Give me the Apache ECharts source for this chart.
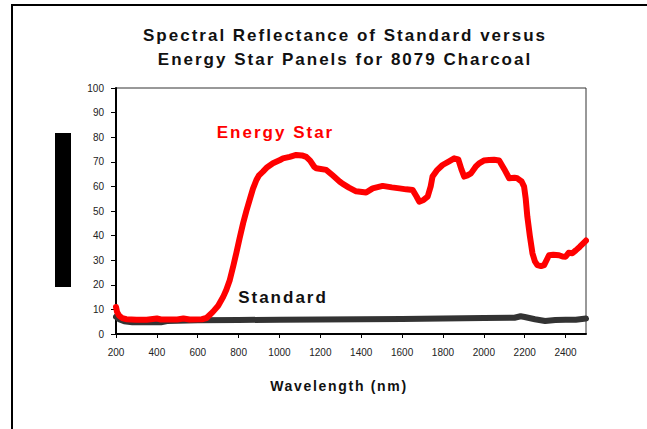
<!DOCTYPE html>
<html>
<head>
<meta charset="utf-8">
<script src="https://cdn.jsdelivr.net/npm/echarts@6/dist/echarts.min.js"></script>
<style>
  html, body { margin: 0; padding: 0; background: #fff; }
  #chart { width: 647px; height: 429px; }
  #chart svg text[style*="17px"] { letter-spacing: 2px; }
  #chart svg text[style*="14px"] { letter-spacing: 1.7px; }
</style>
</head>
<body>
<div id="chart"></div>
<script>
// Energy Star panel reflectance (%)
var energyWavelength = [200, 205, 215, 230, 250, 300, 350, 400, 420, 500, 530, 560, 620, 643, 674, 700, 724, 740, 757, 775, 789, 805, 822, 838, 854, 870, 887, 900, 919, 940, 968, 1000, 1017, 1050, 1082, 1110, 1131, 1150, 1170, 1180, 1229, 1260, 1294, 1310, 1340, 1375, 1424, 1456, 1505, 1550, 1587, 1620, 1652, 1670, 1684, 1705, 1725, 1740, 1749, 1770, 1798, 1830, 1855, 1875, 1890, 1904, 1920, 1937, 1960, 1977, 2000, 2026, 2050, 2075, 2100, 2124, 2150, 2164, 2185, 2197, 2205, 2213, 2225, 2238, 2250, 2262, 2280, 2295, 2310, 2319, 2340, 2368, 2385, 2400, 2415, 2433, 2450, 2470, 2500];
var energyReflectance = [11, 9, 7.5, 6.5, 6, 5.8, 5.8, 6.3, 5.9, 5.9, 6.3, 5.9, 6, 6.5, 9, 11.5, 15, 18, 22, 28, 33, 39, 45, 50, 54.5, 59, 62.6, 64.5, 66, 67.8, 69.4, 70.6, 71.4, 72, 72.8, 72.6, 72, 70.5, 68, 67.4, 66.7, 64.5, 62, 61, 59.5, 58, 57.5, 59.2, 60.2, 59.6, 59.2, 58.8, 58.5, 56, 53.8, 54.5, 55.8, 60, 64, 66.5, 68.7, 70.2, 71.4, 71, 67, 64, 64.5, 65.3, 68, 69.4, 70.5, 70.7, 70.8, 70.5, 67, 63.3, 63.5, 63.3, 62, 59.9, 55, 47.7, 40, 32.8, 29.5, 28, 27.6, 28, 30.5, 32, 32.2, 32, 31.5, 31.4, 33, 32.8, 34, 35.5, 38];

// Standard panel reflectance (%)
var standardWavelength = [200, 215, 240, 280, 420, 450, 600, 800, 1000, 1200, 1400, 1600, 1800, 2000, 2150, 2180, 2200, 2250, 2300, 2350, 2400, 2450, 2500];
var standardReflectance = [7, 6, 5.2, 4.8, 4.8, 5.3, 5.6, 5.7, 5.8, 5.9, 6.0, 6.1, 6.3, 6.5, 6.6, 7.2, 6.9, 6.0, 5.3, 5.7, 5.8, 5.8, 6.3];

var titleLines = ['Spectral Reflectance of Standard versus', 'Energy Star Panels for 8079 Charcoal'];
var xAxisTitle = 'Wavelength (nm)';
var seriesNames = ['Standard', 'Energy Star'];

function pairs(xs, ys) {
  return xs.map(function (x, i) { return [x, ys[i]]; });
}

var FONT = 'Liberation Sans';
var chart = echarts.init(document.getElementById('chart'), null, { renderer: 'svg' });

chart.setOption({
  animation: false,
  backgroundColor: '#ffffff',
  title: {
    text: titleLines.join('\n'),
    left: 340,
    top: 18,
    textAlign: 'center',
    textStyle: { fontFamily: FONT, fontSize: 17, fontWeight: 'bold', color: '#111', lineHeight: 24.5 }
  },
  grid: { left: 116, right: 61, top: 88, bottom: 95, show: true, borderColor: '#333', borderWidth: 1 },
  xAxis: {
    type: 'value',
    min: 200, max: 2500, interval: 200,
    axisLine: { show: true, lineStyle: { color: '#000', width: 2 } },
    axisTick: { show: true, inside: false, length: 4, lineStyle: { color: '#000', width: 1 } },
    axisLabel: { showMaxLabel: false, margin: 13, fontFamily: FONT, fontSize: 10, color: '#222',
      formatter: function (v) { return String(v); } },
    splitLine: { show: false }
  },
  yAxis: {
    type: 'value',
    min: 0, max: 100, interval: 10,
    axisLine: { show: true, lineStyle: { color: '#000', width: 2 } },
    axisTick: { show: true, inside: false, length: 5, lineStyle: { color: '#000', width: 1 } },
    axisLabel: { margin: 12, fontFamily: FONT, fontSize: 10, color: '#222',
      formatter: function (v) { return String(v); } },
    splitLine: { show: false }
  },
  series: [
    {
      name: seriesNames[0],
      type: 'line',
      data: pairs(standardWavelength, standardReflectance),
      showSymbol: false,
      lineStyle: { color: '#333333', width: 6, cap: 'round', join: 'round' },
      itemStyle: { color: '#333333' },
      z: 2
    },
    {
      name: seriesNames[1],
      type: 'line',
      data: pairs(energyWavelength, energyReflectance),
      showSymbol: false,
      lineStyle: { color: '#ff0000', width: 6, cap: 'round', join: 'round' },
      itemStyle: { color: '#ff0000' },
      z: 3
    }
  ],
  graphic: [
    { type: 'rect', silent: true, shape: { x: 12, y: 5, width: 700, height: 500 }, style: { fill: 'none', stroke: '#000', lineWidth: 2 } },
    { type: 'rect', silent: true, shape: { x: 55, y: 133, width: 16, height: 154 }, style: { fill: '#000' } },
    { type: 'text', silent: true, x: 275.5, y: 132, style: { text: seriesNames[1], fontFamily: FONT, fontSize: 17, fontWeight: 'bold', fill: '#ff0000', align: 'center', verticalAlign: 'middle' } },
    { type: 'text', silent: true, x: 283, y: 297.5, style: { text: seriesNames[0], fontFamily: FONT, fontSize: 17, fontWeight: 'bold', fill: '#111', align: 'center', verticalAlign: 'middle' } },
    { type: 'text', silent: true, x: 339, y: 385.5, style: { text: xAxisTitle, fontFamily: FONT, fontSize: 14, fontWeight: 'bold', fill: '#111', align: 'center', verticalAlign: 'middle' } }
  ]
});
</script>
</body>
</html>
